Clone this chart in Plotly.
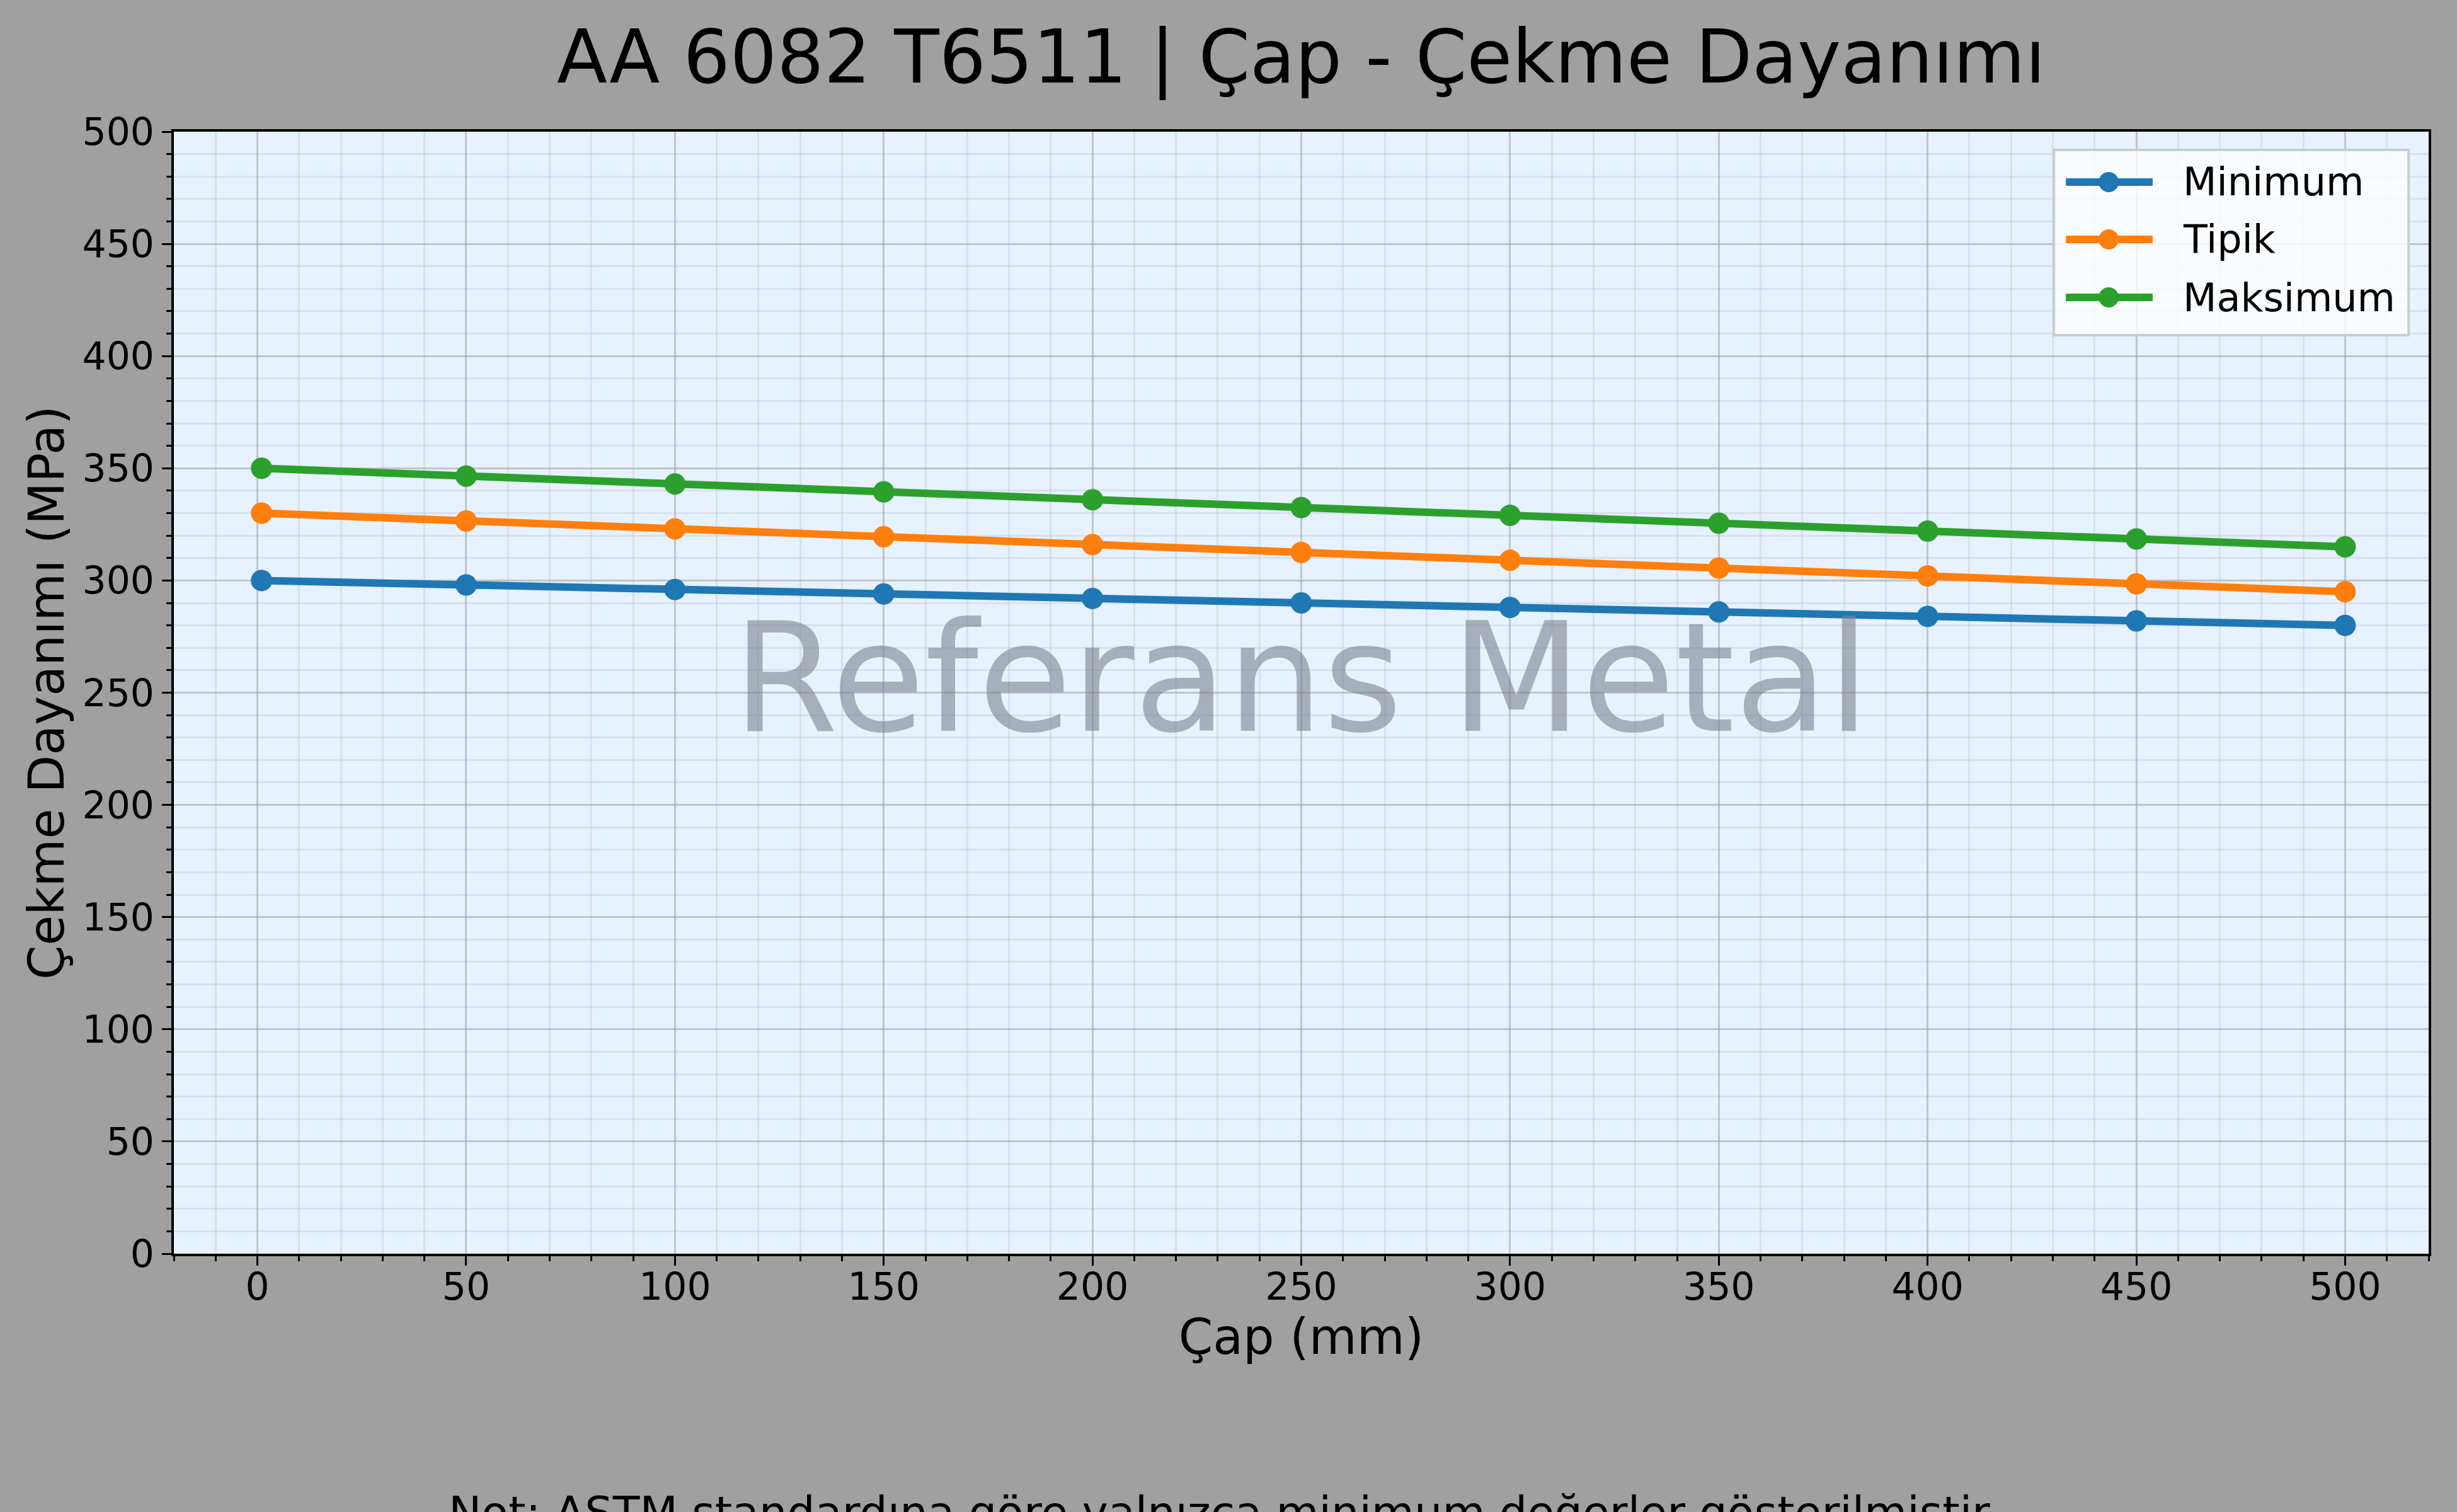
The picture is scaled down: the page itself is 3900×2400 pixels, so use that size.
import plotly.graph_objects as go

# Data
cap_mm = [1, 50, 100, 150, 200, 250, 300, 350, 400, 450, 500]
minimum = [300, 298, 296, 294, 292, 290, 288, 286, 284, 282, 280]
tipik = [330, 326.5, 323, 319.5, 316, 312.5, 309, 305.5, 302, 298.5, 295]
maksimum = [350, 346.5, 343, 339.5, 336, 332.5, 329, 325.5, 322, 318.5, 315]

series_names = ['Minimum', 'Tipik', 'Maksimum']
series_colors = ['#1f77b4', '#ff7f0e', '#2ca02c']

title_text = 'AA 6082 T6511 | Çap - Çekme Dayanımı'
x_title = 'Çap (mm)'
y_title = 'Çekme Dayanımı (MPa)'
watermark = 'Referans Metal'
note_text = 'Not: ASTM standardına göre yalnızca minimum değerler gösterilmiştir.'

font_family = 'DejaVu Sans, Noto Sans, sans-serif'
major_grid = 'rgba(160,160,160,0.55)'
minor_grid = 'rgba(160,160,160,0.2)'

fig = go.Figure()
for name, values, color in zip(series_names, [minimum, tipik, maksimum], series_colors):
    fig.add_trace(go.Scatter(
        x=cap_mm,
        y=values,
        name=name,
        mode='lines+markers',
        line=dict(color=color, width=12),
        marker=dict(color=color, size=34),
        showlegend=False,
    ))

axis_common = dict(
    showline=True,
    linecolor='black',
    linewidth=4,
    mirror=True,
    zeroline=False,
    showgrid=True,
    gridcolor=major_grid,
    gridwidth=3,
    ticks='outside',
    ticklen=15,
    tickwidth=3,
    tickcolor='black',
    tickfont=dict(family=font_family, size=60, color='black'),
)

fig.update_xaxes(
    range=[-20, 520],
    tick0=0,
    dtick=50,
    ticklabelstandoff=-18,
    minor=dict(dtick=10, showgrid=True, gridcolor=minor_grid, gridwidth=3,
               ticks='outside', ticklen=8, tickwidth=3, tickcolor='black'),
    title=dict(text=x_title, font=dict(family=font_family, size=78, color='black'),
               standoff=8),
    **axis_common
)
fig.update_yaxes(
    range=[0, 500],
    tick0=0,
    dtick=50,
    minor=dict(dtick=10, showgrid=True, gridcolor=minor_grid, gridwidth=3,
               ticks='outside', ticklen=8, tickwidth=3, tickcolor='black'),
    title=dict(text=y_title, font=dict(family=font_family, size=78, color='black'),
               standoff=4),
    **axis_common
)

# Watermark in the middle of the plot
fig.add_annotation(
    text=watermark,
    xref='paper', yref='paper',
    x=0.5, y=0.513,
    xanchor='center', yanchor='middle',
    showarrow=False,
    font=dict(family=font_family, size=241, color='rgba(125,130,140,0.6)'),
)

# Legend drawn by hand so the line samples look like the reference
legend_box = dict(x0=0.8338, x1=0.9911, y0=0.8186, y1=0.9837)
legend_rows = [0.9551, 0.9040, 0.8523]
fig.add_shape(type='rect', xref='paper', yref='paper', **legend_box,
              fillcolor='rgba(255,255,255,0.8)', line=dict(color='#cccccc', width=4),
              layer='above')
for name, color, row in zip(series_names, series_colors, legend_rows):
    fig.add_shape(type='line', xref='paper', yref='paper',
                  x0=0.8391, x1=0.8776, y0=row, y1=row,
                  line=dict(color=color, width=12), layer='above')
    fig.add_shape(type='circle', xref='paper', yref='paper',
                  xsizemode='pixel', ysizemode='pixel',
                  xanchor=0.8581, yanchor=row, x0=-16, x1=16, y0=-16, y1=16,
                  fillcolor=color, line=dict(color=color, width=0), layer='above')
    fig.add_annotation(text=name, xref='paper', yref='paper',
                       x=0.8905, y=row, xanchor='left', yanchor='middle',
                       showarrow=False,
                       font=dict(family=font_family, size=62, color='black'))

# Footnote, partly cut off by the bottom edge as in the reference
fig.add_annotation(
    text=note_text,
    xref='paper', yref='paper',
    x=0.4658, y=-0.2066,
    xanchor='center', yanchor='top',
    showarrow=False,
    font=dict(family=font_family, size=70, color='black'),
)

fig.update_layout(
    width=3900,
    height=2400,
    title=dict(text=title_text, x=0.5, xref='paper', xanchor='center',
               y=1 - 90 / 2400, yref='container', yanchor='middle',
               font=dict(family=font_family, size=117, color='black')),
    font=dict(family=font_family, color='black'),
    paper_bgcolor='#a0a0a0',
    plot_bgcolor='#e6f2ff',
    margin=dict(l=276, r=45, t=209, b=410, autoexpand=False),
    showlegend=False,
)

fig.write_html('out.html', config={'displayModeBar': False},
               post_script="document.body.style.margin='0';")
